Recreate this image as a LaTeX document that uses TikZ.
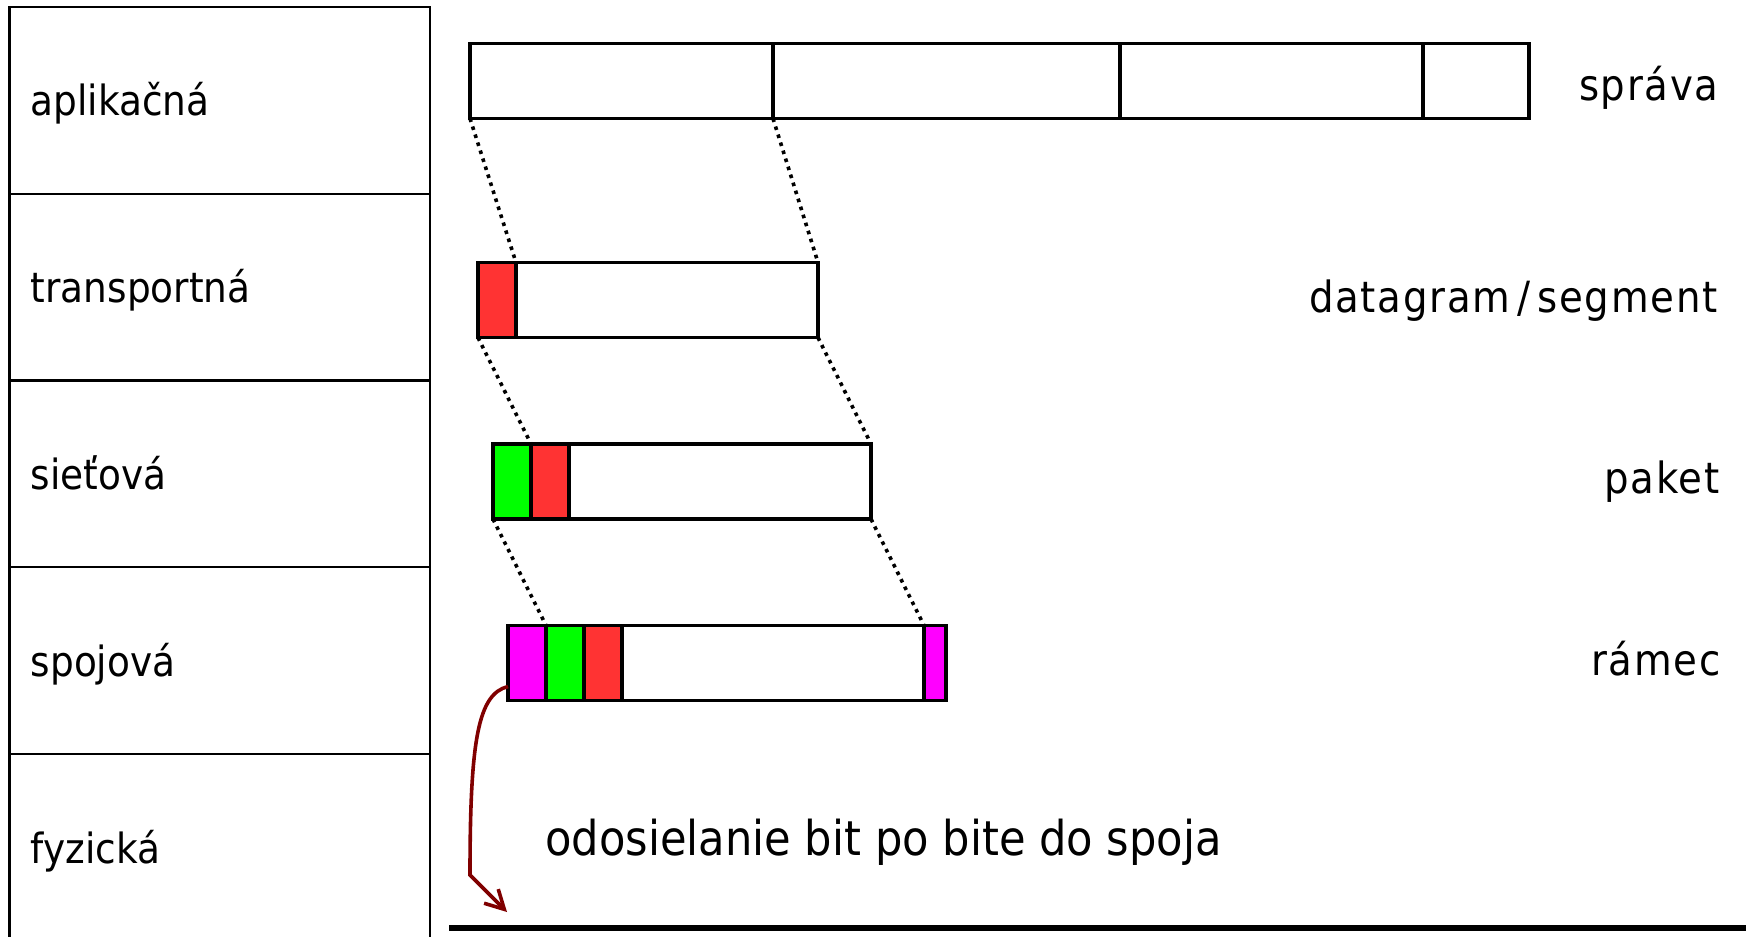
\documentclass[tikz,border=0pt]{standalone}
\usepackage{fontspec}
\setmainfont{DejaVu Sans}[FakeStretch=0.9]
\usetikzlibrary{arrows.meta,positioning}
\definecolor{hdrred}{HTML}{FF3333}
\definecolor{hdrgreen}{HTML}{00FF00}
\definecolor{hdrmag}{HTML}{FF00FF}
\definecolor{wirered}{HTML}{800000}

\begin{document}
\begin{tikzpicture}[x=0.5pt, y=-0.5pt, node distance=0pt,
	layer/.style={draw, line width=1.1pt, outer sep=0pt, minimum width=210.25pt, minimum height=93.4pt, text width=189pt, inner xsep=10.5pt, align=left, text height=15.5pt, text depth=0pt, font=\fontsize{20.8}{24}\selectfont},
	seg/.style={draw, line width=1.8pt, outer sep=0pt, inner sep=0pt, minimum height=37.5pt, minimum width=#1},
	seg/.default=151pt,
	unit/.style={anchor=base east, inner sep=0pt, font=\fontsize{21.5}{25}\selectfont\addfontfeature{LetterSpace=4}},
	link/.style={line width=1.8pt, dash pattern=on 1.8pt off 2.4pt},
	send/.style={wirered, line width=1.8pt, -{Straight Barb[length=9.3pt,width=10pt]}}]
	\useasboundingbox (0,0) rectangle (1746,937);
	% vrstvy
	\node[layer] (app) at (219.75,100.35) {aplikačná};
	\node[layer, below=of app] (trn) {transportná};
	\node[layer, below=of trn] (net) {sieťová};
	\node[layer, below=of net] (lnk) {spojová};
	\node[layer, below=of lnk] (phy) {fyzická};
	% sprava
	\node[seg=151.5pt, anchor=west] (m1) at (470,81) {};
	\node[seg=173.5pt, right=of m1] (m2) {};
	\node[seg=151.5pt, right=of m2] (m3) {};
	\node[seg=53pt, right=of m3] (m4) {};
	% segment
	\node[seg=19pt, fill=hdrred, anchor=west] (th) at (478,300) {};
	\node[seg, right=of th] (td) {};
	% paket
	\node[seg=19pt, fill=hdrgreen, anchor=west] (nh) at (493,481.5) {};
	\node[seg=19pt, fill=hdrred, right=of nh] (nt) {};
	\node[seg, right=of nt] (nd) {};
	% ramec
	\node[seg=19pt, fill=hdrmag, anchor=west] (lh) at (508,663) {};
	\node[seg=19pt, fill=hdrgreen, right=of lh] (ln) {};
	\node[seg=19pt, fill=hdrred, right=of ln] (lt) {};
	\node[seg, right=of lt] (ld) {};
	\node[seg=11pt, fill=hdrmag, right=of ld] (lf) {};
	\node[unit] (sprava) at (1719,100) {správa};
	\node[unit] (datagram) at (1718,312) {datagram\,/\,segment};
	\node[unit] (paket) at (1720,493) {paket};
	\node[unit] (ramec) at (1721,675) {rámec};
	\node[anchor=base west, inner sep=0pt, font=\fontsize{24}{28}\selectfont] (bits) at (545,855) {odosielanie bit po bite do spoja};
	\draw[link] (m1.south west) to (td.north west);
	\draw[link] (m1.south east) to (td.north east);
	\draw[link] (th.south west) to (nt.north west);
	\draw[link] (td.south east) to (nd.north east);
	\draw[link] (nh.south west) to (ln.north west);
	\draw[link] (nd.south east) to (lf.north west);
	% spoj
	\coordinate (wire-a) at (449,928);
	\coordinate (wire-b) at (1746,928);
	\draw[line width=3.4pt] (wire-a) -- (wire-b);
	\coordinate (bend) at (470,875);
	\coordinate (tip) at (507,912);
	\draw[send] ([yshift=7pt]lh.south west) .. controls (478,694) and (470,740) .. (bend) -- (tip);
\end{tikzpicture}
\end{document}
